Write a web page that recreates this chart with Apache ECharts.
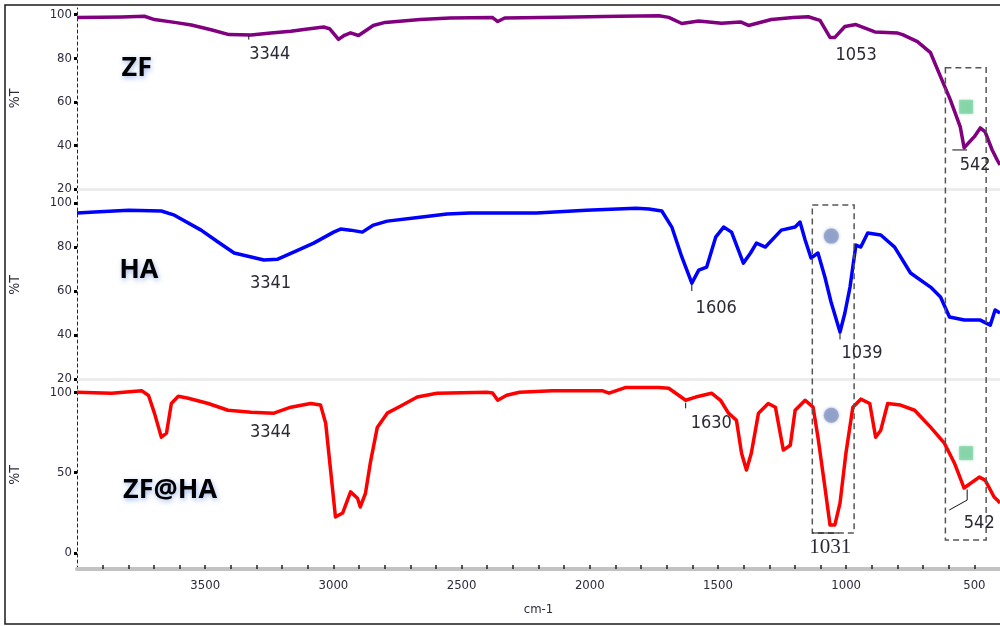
<!DOCTYPE html>
<html>
<head>
<meta charset="utf-8">
<script src="https://cdn.jsdelivr.net/npm/echarts@6/dist/echarts.min.js"></script>
<style>
html,body{margin:0;padding:0;background:#fff;}
#main{width:1000px;height:626px;}
</style>
</head>
<body>
<div id="main"></div>
<script>
// ---------- DATA ----------
// wavenumber (cm-1), transmittance (%)
const zfSpectrum = [[4000,98.7],[3904,98.8],[3826,98.9],[3737,99.2],[3698,97.7],[3613,96.3],[3554,95.2],[3477,93],[3407,90.8],[3321,90.6],[3244,91.5],[3166,92.3],[3108,93.3],[3038,94.3],[3015,93.5],[2980,88.6],[2957,90.5],[2933,91.6],[2902,90.4],[2844,95],[2798,96.4],[2662,97.7],[2545,98.4],[2379,98.6],[2359,96.8],[2332,98.4],[2119,98.8],[1886,99.2],[1730,99.4],[1692,98.7],[1641,95.9],[1575,97],[1486,96],[1412,96.6],[1381,95],[1292,97.7],[1207,98.6],[1148,99],[1102,97.3],[1063,89.5],[1044,89.5],[1005,94.5],[962,95.4],[888,92],[799,91.5],[780,90.8],[722,87.6],[671,82.5],[632,71.5],[594,61],[555,48.5],[540,38.9],[500,44],[477,48],[458,46.2],[431,38],[411,33.3],[400,31]];

const haSpectrum = [[4000,95.5],[3931,95.9],[3799,96.8],[3671,96.4],[3620,94.5],[3516,87.7],[3450,82.3],[3387,77.3],[3271,74.1],[3217,74.5],[3155,77.7],[3077,81.8],[2999,86.8],[2972,88.2],[2933,87.7],[2887,86.8],[2844,90],[2790,91.8],[2662,93.6],[2557,95],[2468,95.5],[2208,95.5],[2014,96.8],[1820,97.7],[1769,97.3],[1719,96.4],[1680,89.1],[1641,75.5],[1602,63.6],[1575,69.5],[1544,70.9],[1509,84.5],[1478,89.1],[1447,86.8],[1401,72.7],[1373,77.3],[1350,81.8],[1315,80],[1253,87.7],[1199,89.1],[1180,91.4],[1160,83.2],[1137,75],[1110,77.3],[1083,66.4],[1059,55],[1024,41.4],[1005,50],[985,61.8],[962,80.9],[943,80],[916,86.4],[865,85.5],[811,80],[749,68.2],[671,61.8],[632,57.3],[597,48.2],[539,46.8],[477,46.8],[438,44.5],[419,51.4],[400,50]];

const zfhaSpectrum = [[4000,100],[3865,99.4],[3748,101],[3721,98],[3698,87],[3671,72],[3651,74.5],[3632,93],[3605,97.5],[3566,96.3],[3488,93],[3411,88.8],[3321,87.6],[3232,87],[3166,90.7],[3089,93],[3050,92],[3030,80.7],[3011,51.6],[2992,22.4],[2964,24.8],[2933,38],[2906,34],[2895,28.6],[2875,37],[2856,56],[2829,78],[2790,87],[2739,91.3],[2673,97],[2596,99.4],[2402,100],[2379,99.5],[2359,95],[2324,98.1],[2274,100],[2146,101],[1952,101],[1925,99.4],[1859,103],[1731,103],[1692,102.5],[1626,95],[1587,97],[1525,99.4],[1490,95],[1459,87],[1428,82.6],[1408,62],[1389,51.6],[1370,62],[1342,87],[1304,93],[1276,90.7],[1245,64],[1218,67],[1199,88.8],[1160,95],[1129,90.7],[1110,72],[1083,41],[1063,17.4],[1044,17.4],[1024,31],[1001,62],[974,90.7],[943,95.7],[908,93],[885,72],[865,76.4],[838,93],[788,92],[733,88.8],[671,78.3],[617,68.3],[578,56],[540,40.4],[481,47.2],[458,45.3],[423,34.8],[411,33],[400,31]];

const xTickLabels = [3500,3000,2500,2000,1500,1000,500];
const xMinorTicks = [3900,3800,3700,3600,3500,3400,3300,3200,3100,3000,2900,2800,2700,2600,2500,2400,2300,2200,2100,2000,1900,1800,1700,1600,1500,1400,1300,1200,1100,1000,900,800,700,600,500];
const yTicksTop = [20,40,60,80,100];
const yTicksBottom = [0,50,100];

const panelNames = ['ZF','HA','ZF@HA'];
const panelNamePos = [[3767,75.2],[3759,69.5],[3637,39]];

const peaksZF = [['3344',3248,81.6],['1053',961,81.1],['542',497,31]];
const peaksHA = [['3341',3245,63.6],['1606',1507,52.3],['1039',938,31.8]];
const peaksZFHA = [['3344',3245,75.2],['1630',1526,80.7],['1031',1062,3.1],['542',481,18.6]];

const squareMarkersZF = [[532,57.7]];
const circleMarkersHA = [[1058,85]];
const squareMarkersZFHA = [[532,62.1]];
const circleMarkersZFHA = [[1058,85.7]];

// ---------- CHART ----------
const NARROW = '"Liberation Sans Narrow","DejaVu Sans Condensed","Arial Narrow",sans-serif';
const chart = echarts.init(document.getElementById('main'), null, {renderer:'canvas'});

function xAxisFor(i){
  const last = i === 2;
  return {
    type:'value', gridIndex:i, min:400, max:4000, inverse:true,
    splitLine:{show:false},
    axisLine:{show:true, onZero:false, lineStyle:{color: last ? '#c2c2c2' : '#ececec', width: last ? 4 : 3}},
    axisTick:{show:last, inside:true, length:4, customValues:xMinorTicks, lineStyle:{color:'#222', width:1.5}},
    axisLabel:{show:last, customValues:xTickLabels, formatter:(v) => String(v), fontFamily:NARROW, fontSize:13, color:'#2b2b3b', margin:10},
    name: last ? 'cm-1' : '', nameLocation:'middle', nameGap:34,
    nameTextStyle:{fontFamily:NARROW, fontSize:13, color:'#2b2b3b'}
  };
}
function yAxisFor(i, min, max, ticks){
  return {
    type:'value', gridIndex:i, min:min, max:max,
    splitLine:{show:false},
    axisLine:{show:true, lineStyle:{color:'#222', width:1, type:[3,3]}},
    axisTick:{show:true, length:3, customValues:ticks, lineStyle:{color:'#000', width:3}},
    axisLabel:{customValues:ticks, formatter:(v) => String(v), fontFamily:NARROW, fontSize:13, color:'#2b2b3b', margin:5},
    name:'%T', nameLocation:'middle', nameRotate:90, nameGap:55,
    nameTextStyle:{fontFamily:NARROW, fontSize:14, color:'#2b2b3b'}
  };
}
function lineSeries(i, data, color){
  return {type:'line', xAxisIndex:i, yAxisIndex:i, data:data, showSymbol:false, symbol:'none',
    lineStyle:{color:color, width:3.5, join:'round'}, animation:false, z:3};
}
function markerSeries(i, data, symbol, color, size){
  return {type:'scatter', xAxisIndex:i, yAxisIndex:i, data:data, symbol:symbol, symbolSize:size,
    itemStyle:{color:color, shadowBlur:3, shadowColor:color}, animation:false, z:4};
}

const option = {
  backgroundColor:'#ffffff',
  animation:false,
  grid:[
    {left:75, width:928, top:8, height:181},
    {left:75, width:928, top:191, height:188},
    {left:75, width:928, top:381, height:188}
  ],
  xAxis:[xAxisFor(0), xAxisFor(1), xAxisFor(2)],
  yAxis:[yAxisFor(0,20,103,yTicksTop), yAxisFor(1,20,105.5,yTicksTop), yAxisFor(2,-10,107,yTicksBottom)],
  series:[
    lineSeries(0, zfSpectrum, '#800080'),
    lineSeries(1, haSpectrum, '#0000ff'),
    lineSeries(2, zfhaSpectrum, '#ff0000'),
    markerSeries(0, squareMarkersZF, 'rect', '#7fd3a5', 14),
    markerSeries(1, circleMarkersHA, 'circle', '#8c9dc8', 15),
    markerSeries(2, squareMarkersZFHA, 'rect', '#7fd3a5', 14),
    markerSeries(2, circleMarkersZFHA, 'circle', '#8c9dc8', 15)
  ]
};
chart.setOption(option);

// ---------- ANNOTATIONS ----------
function px(i, wn, v){ return chart.convertToPixel({xAxisIndex:i, yAxisIndex:i}, [wn, v]); }
const g = [];
// outer frame
g.push({type:'rect', shape:{x:5, y:5, width:1010, height:619}, style:{fill:null, stroke:'#1a1a1a', lineWidth:1.5}, z:10});
// panel names
panelNames.forEach((t, i) => {
  const p = px(i, panelNamePos[i][0], panelNamePos[i][1]);
  g.push({type:'text', x:p[0], y:p[1], style:{text:t, fill:'#000', font:'bold 27px "Open Sans", sans-serif',
    align:'center', verticalAlign:'middle', textShadowColor:'rgba(70,120,220,0.5)', textShadowBlur:5, textShadowOffsetX:1, textShadowOffsetY:2}, z:10});
});
// peak labels
[peaksZF, peaksHA, peaksZFHA].forEach((arr, i) => {
  arr.forEach(([t, wn, v]) => {
    const p = px(i, wn, v);
    const serif = (t === '1031');
    g.push({type:'text', x:p[0], y:p[1], style:{text:t, fill:'#2a2a35',
      font: serif ? '21px "Liberation Serif", serif' : '18px ' + NARROW,
      align:'center', verticalAlign:'middle'}, z:10});
  });
});
// dashed boxes
function box(wn1, wn2, iTop, vTop, iBot, vBot){
  const a = px(iTop, wn1, vTop), b = px(iBot, wn2, vBot);
  g.push({type:'rect', shape:{x:a[0], y:a[1], width:b[0]-a[0], height:b[1]-a[1]},
    style:{fill:null, stroke:'#555', lineWidth:1.5, lineDash:[6,4]}, z:9});
}
box(613, 454, 0, 75.6, 2, 8.1);
box(1132, 969, 1, 99.1, 2, 12.4);
// leader lines
function leader(i, pts){
  g.push({type:'polyline', shape:{points:pts.map(q => px(i, q[0], q[1]))}, style:{stroke:'#111', lineWidth:1, fill:null}, z:9});
}
leader(0, [[586,37.9],[528,37.9]]);
leader(2, [[598,26.7],[528,32.9],[528,39.5]]);
leader(2, [[1132,12.4],[1030,12.4]]);
leader(1, [[1602,63],[1602,60]]);
leader(2, [[1626,93.5],[1626,90]]);
leader(1, [[1024,41],[1024,38]]);
leader(0, [[3330,90.2],[3330,88.5]]);
chart.setOption({graphic:g});
</script>
</body>
</html>
